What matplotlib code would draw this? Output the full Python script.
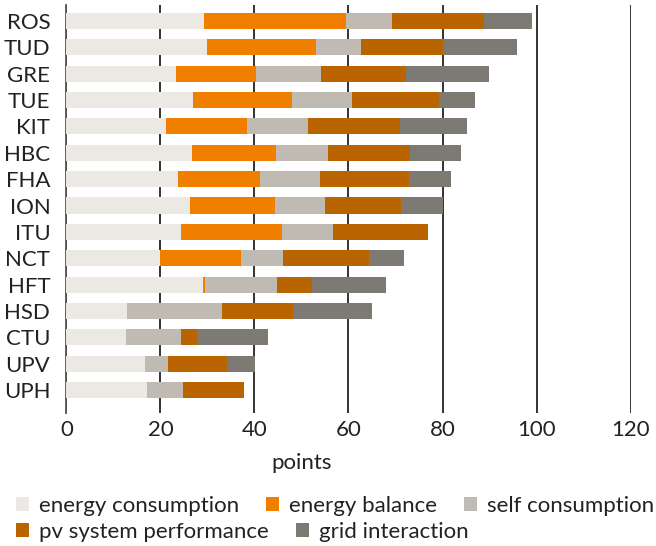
import matplotlib
matplotlib.use("Agg")
import matplotlib.pyplot as plt
from matplotlib.patches import Patch
import numpy as np

plt.rcParams['font.family'] = ['Lato', 'DejaVu Sans']
plt.rcParams['font.weight'] = 'normal'

teams = ["ROS", "TUD", "GRE", "TUE", "KIT", "HBC", "FHA", "ION", "ITU", "NCT",
         "HFT", "HSD", "CTU", "UPV", "UPH"]
energy_consumption = [29.3, 29.9, 23.3, 27.0, 21.2, 26.7, 23.8, 26.3, 24.4, 19.9,
                      29.1, 12.9, 12.7, 16.7, 17.2]
energy_balance = [30.2, 23.2, 17.1, 21.0, 17.2, 17.9, 17.4, 18.1, 21.5, 17.3,
                  0.3, 0.0, 0.0, 0.0, 0.0]
self_consumption = [9.8, 9.6, 13.8, 12.8, 13.0, 11.1, 12.7, 10.6, 10.8, 8.9,
                    15.4, 20.2, 11.7, 4.9, 7.6]
pv_performance = [19.5, 17.4, 18.1, 18.5, 19.6, 17.4, 19.0, 16.2, 20.2, 18.3,
                  7.5, 15.1, 3.4, 12.6, 13.0]
grid_interaction = [10.3, 15.8, 17.6, 7.5, 14.1, 10.9, 9.0, 8.9, 0.0, 7.4,
                    15.7, 16.8, 15.1, 5.9, 0.0]

series = [
    ("energy consumption", energy_consumption, "#ECE9E4"),
    ("energy balance", energy_balance, "#F07F00"),
    ("self consumption", self_consumption, "#BFBBB3"),
    ("pv system performance", pv_performance, "#BA6400"),
    ("grid interaction", grid_interaction, "#7D7A74"),
]
xticks = [0, 20, 40, 60, 80, 100, 120]

FS = 16

fig = plt.figure(figsize=(6.56, 5.46), dpi=100)
ax = fig.add_axes([0.1011, 0.2436, 0.8603, 0.7472])

y = np.arange(len(teams))
left = np.zeros(len(teams))
handles = []
for name, vals, col in series:
    v = np.array(vals)
    ax.barh(y, v, left=left, height=0.61, color=col, zorder=3, label=name)
    left += v
    handles.append(Patch(facecolor=col, edgecolor='none', label=name))

ax.set_xlim(0, 120)
ax.set_ylim(14.873, -0.607)
ax.set_xticks(xticks)
ax.set_yticks(y)
ax.set_yticklabels(teams)
ax.grid(axis='x', color='#111111', linewidth=1.2, zorder=0)
ax.set_axisbelow(True)
for s in ['top', 'right', 'bottom']:
    ax.spines[s].set_visible(False)
ax.spines['left'].set_color('#555555')
ax.spines['left'].set_linewidth(1.3)
ax.tick_params(axis='x', length=0, pad=5, labelsize=FS, labelcolor='#222222')
ax.tick_params(axis='y', length=0, pad=11.5, labelsize=FS, labelcolor='#222222')
ax.set_xlabel("points", fontsize=FS, color='#222222', fontweight='normal')
ax.xaxis.set_label_coords(50 / 120, -0.097)

row1 = handles[:3]
row2 = handles[3:]
common = dict(frameon=False, fontsize=FS, handlelength=0.6, handleheight=0.6,
              handletextpad=0.45, columnspacing=1.2, borderpad=0, borderaxespad=0,
              loc='center left', labelcolor='#222222')
leg1 = fig.legend(handles=row1, ncol=3, bbox_to_anchor=(16 / 656, 1 - 505.5 / 546), **common)
leg2 = fig.legend(handles=row2, ncol=2, bbox_to_anchor=(16 / 656, 1 - 532 / 546), **common)

fig.savefig("out.png", dpi=100)
